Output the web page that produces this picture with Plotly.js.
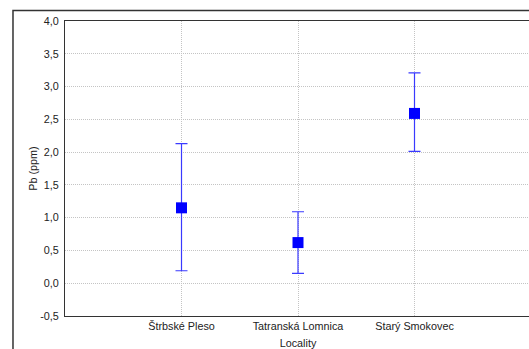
<!DOCTYPE html>
<html>
<head>
<meta charset="utf-8">
<script src="https://cdn.plot.ly/plotly-3.0.1.min.js"></script>
<style>
  html, body { margin: 0; padding: 0; overflow: hidden; background: #fff; }
  #chart { width: 531px; height: 349px; }
</style>
</head>
<body>
<div id="chart"></div>
<script>
// Lead (Pb) concentration by locality: mean with lower/upper bounds
const localities = ['Štrbské Pleso', 'Tatranská Lomnica', 'Starý Smokovec'];
const xPos = [1, 2, 3];
const meanPb = [1.15, 0.62, 2.59];
const upperPb = [2.13, 1.09, 3.21];
const lowerPb = [0.19, 0.15, 2.01];
const yTicks = [-0.5, 0, 0.5, 1, 1.5, 2, 2.5, 3, 3.5, 4];
const yTickLabels = ['-0,5', '0,0', '0,5', '1,0', '1,5', '2,0', '2,5', '3,0', '3,5', '4,0'];

const errPlus = meanPb.map((m, i) => upperPb[i] - m);
const errMinus = meanPb.map((m, i) => m - lowerPb[i]);

const trace = {
  x: xPos,
  y: meanPb,
  type: 'scatter',
  mode: 'markers',
  marker: { symbol: 'square', size: 11, color: '#0000ff' },
  error_y: {
    type: 'data',
    symmetric: false,
    array: errPlus,
    arrayminus: errMinus,
    color: '#3a3aff',
    thickness: 1.2,
    width: 6
  },
  hoverinfo: 'skip'
};

const fam = 'Liberation Sans, Arial, sans-serif';
const txt = { family: fam, size: 10.8, color: '#222' };
const grid = '#c4c4c4';

const layout = {
  width: 531,
  height: 349,
  margin: { l: 65, r: 0, t: 21, b: 32.5 },
  paper_bgcolor: '#fff',
  plot_bgcolor: '#fff',
  showlegend: false,
  font: txt,
  xaxis: {
    range: [0, 4],
    tickvals: xPos,
    ticktext: localities,
    showgrid: true,
    gridcolor: grid,
    griddash: '1px,1px',
    gridwidth: 1,
    zeroline: false,
    showline: true,
    linecolor: '#333',
    linewidth: 1,
    mirror: true,
    ticks: '',
    tickfont: txt,
    title: { text: 'Locality', font: txt, standoff: 8 },
    fixedrange: true
  },
  yaxis: {
    range: [-0.5, 4],
    tickvals: yTicks,
    ticktext: yTickLabels,
    showgrid: true,
    gridcolor: grid,
    griddash: '1px,1px',
    gridwidth: 1,
    zeroline: false,
    showline: true,
    linecolor: '#333',
    linewidth: 1,
    mirror: true,
    ticks: '',
    ticklabelstandoff: 3,
    tickfont: txt,
    title: { text: 'Pb (ppm)', font: txt, standoff: 0 },
    fixedrange: true
  },
  shapes: [
    {
      type: 'path',
      xref: 'paper', yref: 'paper',
      path: 'M -0.1116,-0.2 L -0.1116,1.0355 L 1.2,1.0355',
      line: { color: '#333', width: 1.5 }
    }
  ]
};

Plotly.newPlot('chart', [trace], layout, { displayModeBar: false, staticPlot: true });
</script>
</body>
</html>
